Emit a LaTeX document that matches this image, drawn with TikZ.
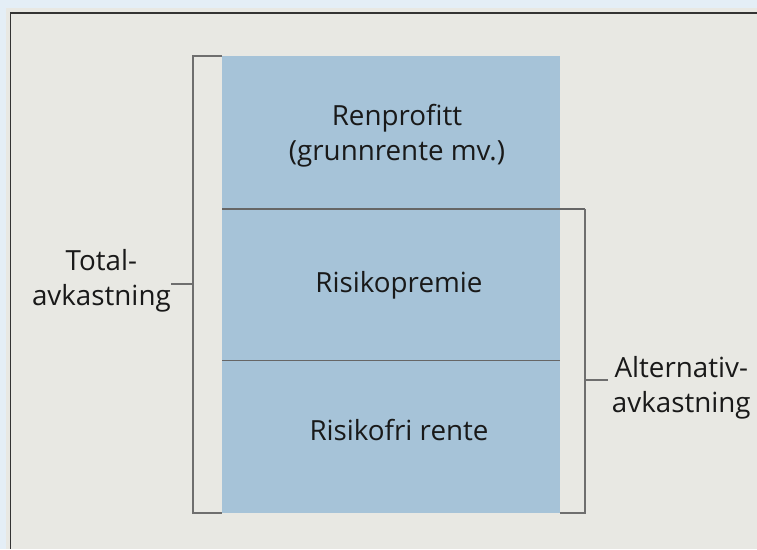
\documentclass[tikz,border=0pt]{standalone}
\usepackage{fontspec}
\setmainfont{Open Sans}
\usetikzlibrary{positioning,calc}
\definecolor{bgcol}{HTML}{E8E8E3}
\definecolor{edgecol}{HTML}{E4EEF6}
\definecolor{boxcol}{HTML}{A6C3D8}
\definecolor{linecol}{HTML}{6E6E6E}

\begin{document}
\begin{tikzpicture}
[x=0.03cm,y=-0.03cm,
lbl/.style={font=\fontsize{23.7}{30}\selectfont,align=center,inner sep=0pt,text=black!90},
bracket/.style={draw=linecol,line width=1.2pt},
divider/.style={draw=black!60,line width=0.9pt}]
%%
%%%%%%%%%%%%%%%%%%
% background
%%%%%%%%%%%%%%%%%%
\useasboundingbox (0,0) rectangle (757,549);
\fill[bgcol] (0,0) rectangle (757,549);
\fill[edgecol] (0,0) rectangle (6,549);
\fill[edgecol] (0,0) rectangle (757,8);
\draw[black!80,line width=1.3pt] (10.5,549) -- (10.5,13) -- (757,13);
%%
%%%%%%%%%%%%%%%%%%
% box
%%%%%%%%%%%%%%%%%%
\coordinate (tl) at (222,56);
\coordinate (br) at (560,513);
\fill[boxcol] (tl) rectangle (br);
%%
\coordinate (d1l) at (222,209);
\coordinate (d1r) at (585,209);
\coordinate (d2l) at (222,360.5);
\coordinate (d2r) at (560,360.5);
\draw[divider] (d1l) -- (d1r);
\draw[divider] (d2l) -- (d2r);
%%
\node[lbl] (renp) at (397,135.5) {Renprofitt\\(grunnrente mv.)};
\node[lbl] (risp) at (399,285) {Risikopremie};
\node[lbl] (risf) at (399,430) {Risikofri rente};
%%
%%%%%%%%%%%%%%%%%%
% brackets
%%%%%%%%%%%%%%%%%%
\draw[bracket] (222,56) -- (193,56) -- (193,513) -- (222,513);
\coordinate (ltick) at (193,284);
\node[lbl,left=0.66cm of ltick,yshift=0.1cm] (total) {Total-\\avkastning};
\draw[bracket] (ltick) -- (ltick -| total.east);
%%
\draw[bracket] (d1r) -- (585,513) -- (560,513);
\coordinate (rtick) at (585,380);
\node[lbl,right=0.8cm of rtick,yshift=-0.24cm] (alt) {Alternativ-\\avkastning};
\draw[bracket] (rtick) -- ++(23,0);
%%
\end{tikzpicture}
\end{document}
